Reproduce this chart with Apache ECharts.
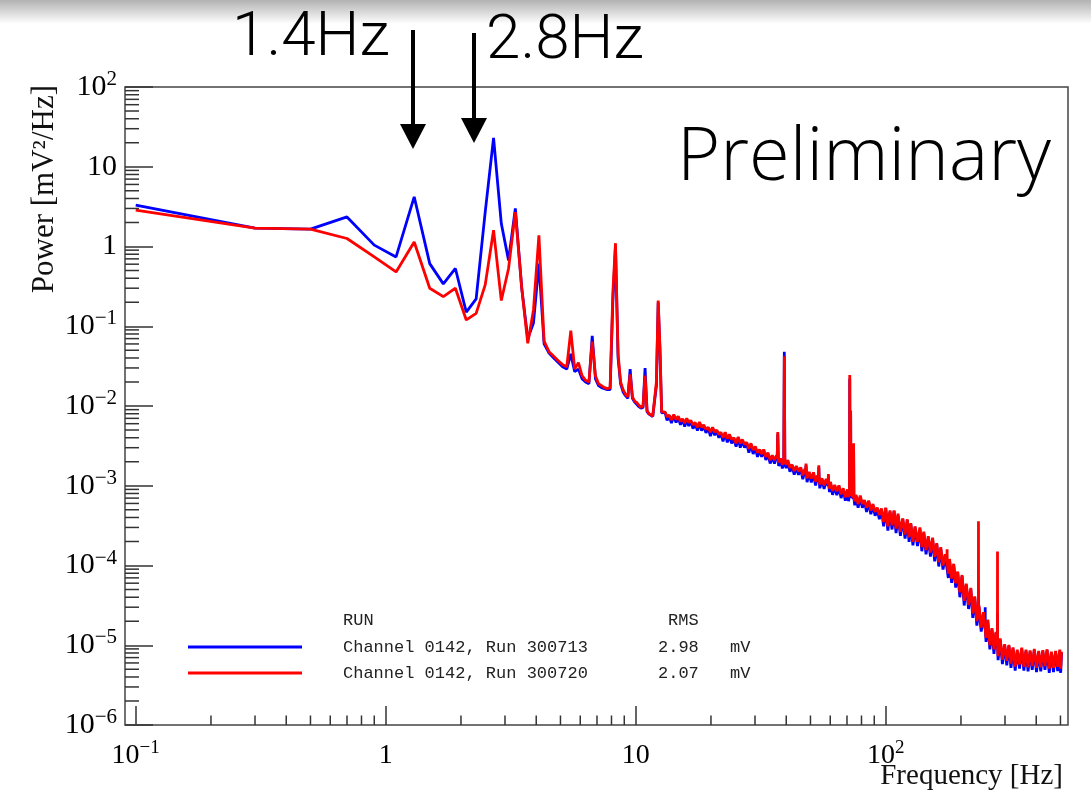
<!DOCTYPE html>
<html><head><meta charset="utf-8">
<script src="https://cdn.jsdelivr.net/npm/echarts@6/dist/echarts.min.js"></script>
<style>html,body{margin:0;padding:0;background:#fff}#c{width:1091px;height:791px}</style>
</head><body><div id="c"></div>
<script>
// ---- data ----
const lowFreq = [0.1,0.3,0.5,0.7,0.9,1.1,1.3,1.5,1.7,1.9,2.1,2.3,2.5,2.7,2.9,3.1,3.3,3.5,3.7,3.9,4.1,4.3,4.5,4.7,4.9,5.1,5.3,5.5,5.7,5.9,6.1,6.3,6.5,6.7,6.9,7.1,7.3,7.5,7.7,7.9,8.1,8.3,8.5,8.7,8.9,9.1,9.3,9.5,9.7,9.9,10.1,10.3,10.5,10.7,10.9,11.1,11.3,11.5,11.7,11.9,12.1,12.3,12.5,12.7,12.9];
const blueLow = [3.3,1.7,1.65,2.35,1.04,0.74,4.2,0.61,0.34,0.53,0.15,0.22,2.7,23,1.94,0.67,3.0,0.3,0.07,0.11,0.61,0.06,0.046,0.04,0.035,0.031,0.029,0.045,0.027,0.029,0.022,0.02,0.019,0.076,0.022,0.018,0.017,0.0165,0.016,0.016,0.2,1.0,0.04,0.019,0.015,0.0135,0.0125,0.029,0.0125,0.0112,0.0105,0.0098,0.0094,0.0096,0.03,0.0085,0.0079,0.0076,0.0074,0.0076,0.018,0.2,0.05,0.0082,0.008];
const redLow = [2.85,1.7,1.65,1.26,0.74,0.48,1.14,0.3,0.235,0.3,0.12,0.145,0.33,1.6,0.21,0.53,2.7,0.3,0.061,0.16,1.38,0.065,0.048,0.042,0.037,0.033,0.031,0.088,0.029,0.035,0.024,0.021,0.02,0.064,0.024,0.019,0.018,0.017,0.0165,0.017,0.26,1.1,0.045,0.02,0.016,0.014,0.013,0.025,0.013,0.0115,0.011,0.0102,0.0096,0.01,0.024,0.0088,0.008,0.0077,0.0075,0.0078,0.02,0.21,0.055,0.0085,0.0082];

// noisy band above 13 Hz: upper excursions at bandFreq, lower excursions at bandMidFreq
const bandFreq = [13.1,13.6,14.2,14.8,15.4,16.0,16.6,17.3,18.0,18.7,19.5,20.3,21.1,21.9,22.8,23.7,24.7,25.7,26.7,27.8,28.9,30.1,31.3,32.5,33.8,35.2,36.6,38.0,40.6,42.2,43.9,45.7,47.5,49.4,51.4,53.4,55.6,57.8,60.1,62.5,65.0,67.6,70.3,73.1,76.0,79.1,82.2,85.5,88.9,92.5,96.2,100,104,108,112,117,122,126,131,137,142,148,154,160,166,173,180,187,194,202,210,219,227,236,246,256,266,276,287,299,311,323,336,350,364,378,393,409,425,442,460,478,497,505];
const bandMidFreq = [13.35,13.9,14.5,15.1,15.7,16.3,16.95,17.65,18.35,19.1,19.9,20.7,21.5,22.35,23.25,24.2,25.2,26.2,27.25,28.35,29.5,30.7,31.9,33.15,34.5,35.9,37.3,38.6,40.0,41.4,43.05,44.8,46.6,48.45,50.4,52.4,54.5,56.7,59.6,61.3,63.75,66.3,68.95,71.0,75.2,77.55,80.65,83.85,87.2,90.7,94.3,98.1,102,106,110,114.5,119.5,124,128.5,134,139.5,145,151,157,163,169.5,178,183.5,190.5,198,206,214.5,223,231.5,241,252,261,271,281.5,293,305,317,329.5,343,357,371,385.5,401,417,433.5,451,469,487.5,501];

const redUpper = [0.0084,0.0077,0.0078,0.0074,0.0069,0.0070,0.0066,0.0062,0.0063,0.0058,0.0054,0.0054,0.0050,0.0047,
 0.0047,0.0044,0.0040,0.0041,0.0038,0.0035,0.0034,0.0031,0.00285,0.00285,0.0026,0.0024,0.0024,0.0022,0.0021,0.00184,0.00177,0.0017,
 0.00162,0.00149,0.00147,0.00135,0.00124,0.00122,0.00112,0.00102,0.00101,0.00093,0.0009,0.0008,0.00077,0.00075,0.00066,0.00065,0.00059,0.00053,0.00052,
 0.00053,0.00049,0.00049,0.000445,0.00039,0.00038,0.00034,0.00031,0.0003,0.000265,0.000233,0.000223,0.00019,0.00017,0.000138,0.000121,0.000105,0.000084,
 7.6e-5,5.9e-5,5.25e-5,4.1e-5,3.15e-5,2.6e-5,2.1e-5,1.64e-5,1.47e-5,1.22e-5,1.03e-5,1.01e-5,9.4e-6,8.8e-6,9.3e-6,8.8e-6,8.6e-6,9.0e-6,8.5e-6,8.7e-6,8.9e-6,8.3e-6,8.5e-6,8.8e-6,8.3e-6];
const redLower = [0.0073,0.0067,0.0068,0.0064,0.0061,0.0062,0.0058,0.0054,0.0054,0.0051,0.0047,0.0047,0.0044,0.0040,
 0.0039,0.0038,0.0034,0.0034,0.0033,0.0029,0.0028,0.0026,0.0025,0.0023,0.0021,0.0021,0.00197,0.00184,0.00184,0.00168,0.00153,0.00152,
 0.00135,0.00124,0.00123,0.00113,0.00104,0.00101,0.00092,0.00086,0.00085,0.00078,0.00072,0.00072,0.00064,0.00059,0.00059,0.00053,0.00049,0.00047,0.00043,
 0.00035,0.00031,0.00032,0.00029,0.000264,0.000245,0.000226,0.000198,0.000198,0.00017,0.000156,0.000145,0.000128,0.00011,0.0001,0.000079,0.0000684,0.0000598,
 4.6e-5,3.6e-5,3.2e-5,2.5e-5,2.0e-5,1.67e-5,1.24e-5,1.0e-5,8.9e-6,7.3e-6,6.6e-6,6.4e-6,5.9e-6,5.4e-6,5.75e-6,5.4e-6,5.3e-6,5.5e-6,5.2e-6,5.3e-6,5.5e-6,5.1e-6,5.2e-6,5.35e-6,5.1e-6];
const blueUpper = [0.0083,0.0076,0.0076,0.0072,0.0068,0.0068,0.0065,0.0060,0.0061,0.0057,0.0053,0.0052,0.0049,0.0046,
 0.0046,0.0042,0.0039,0.0040,0.0037,0.0034,0.0033,0.0030,0.0028,0.0028,0.0025,0.0023,0.0023,0.0021,0.0020,0.0018,0.0017,0.00165,
 0.00158,0.00144,0.00143,0.00131,0.0012,0.00118,0.00108,0.00099,0.00098,0.0009,0.00087,0.00078,0.00075,0.00072,0.00064,0.00063,0.00057,0.00051,0.0005,
 0.00052,0.00047,0.00048,0.000425,0.00038,0.00037,0.00033,0.0003,0.000286,0.000254,0.000223,0.000212,0.000186,0.000164,0.000133,0.000117,0.000102,0.000082,
 7.35e-5,5.7e-5,5.0e-5,4.0e-5,3.05e-5,2.5e-5,2.0e-5,1.58e-5,1.42e-5,1.18e-5,1.0e-5,9.8e-6,9.1e-6,8.5e-6,9.0e-6,8.5e-6,8.3e-6,8.7e-6,8.2e-6,8.4e-6,8.6e-6,8.0e-6,8.2e-6,8.5e-6,8.0e-6];
const blueLower = [0.0066,0.0061,0.0062,0.0058,0.0055,0.0056,0.0052,0.0049,0.0049,0.0046,0.0042,0.0043,0.0040,0.0036,
 0.0035,0.0034,0.0031,0.0030,0.0030,0.0026,0.0025,0.0023,0.0023,0.0021,0.0019,0.0019,0.00177,0.00165,0.00166,0.0015,0.00138,0.00137,
 0.00121,0.00111,0.0011,0.00101,0.00093,0.00091,0.00083,0.00077,0.00076,0.0007,0.00065,0.00064,0.00057,0.00053,0.00053,0.00047,0.00044,0.00042,0.00038,
 0.00031,0.000274,0.000283,0.000255,0.000236,0.000217,0.000198,0.000179,0.000175,0.000151,0.000138,0.000129,0.000113,0.0000972,0.0000887,0.0000698,0.0000604,0.0000528,
 4.0e-5,3.15e-5,2.85e-5,2.2e-5,1.76e-5,1.48e-5,1.1e-5,8.9e-6,7.8e-6,6.5e-6,5.8e-6,5.6e-6,5.2e-6,4.8e-6,5.1e-6,4.8e-6,4.7e-6,4.9e-6,4.6e-6,4.7e-6,4.9e-6,4.5e-6,4.6e-6,4.75e-6,4.5e-6];

// narrow spectral lines [frequency, power]
const redPeaks = [[36.8,0.0022],[37.0,0.0047],[37.2,0.0022],[39.1,0.0020],[39.3,0.042],[39.5,0.0020],
 [47.8,0.0015],[48.0,0.0019],[48.2,0.0015],[53.8,0.0012],[54.0,0.0018],[54.2,0.0012],[58.8,0.00105],[59.0,0.0014],[59.2,0.00105],
 [71.6,0.0008],[71.8,0.0245],[72.0,0.0008],[72.4,0.0088],[72.6,0.00078],[74.2,0.00072],[74.4,0.0034],[74.6,0.00072],
 [175.8,0.00011],[176.0,0.00016],[176.2,0.00011],[234.8,2.6e-5],[235.0,3.6e-4],[235.2,2.6e-5],[279.8,1.0e-5],[280.0,1.5e-4],[280.2,1.0e-5]];
const bluePeaks = [[36.8,0.0021],[37.0,0.0045],[37.2,0.0021],[39.1,0.0019],[39.3,0.048],[39.5,0.0019],
 [47.8,0.0014],[48.0,0.0018],[48.2,0.0014],[53.8,0.00115],[54.0,0.0017],[54.2,0.00115],[58.8,0.001],[59.0,0.0013],[59.2,0.001],
 [71.6,0.00075],[71.8,0.022],[72.0,0.00075],[72.4,0.008],[72.6,0.00074],[74.2,0.0007],[74.4,0.003],[74.6,0.0007],
 [234.8,2.4e-5],[235.0,5.0e-5],[235.2,2.4e-5],[249.8,1.6e-5],[250.0,3.0e-5],[250.2,1.6e-5],[279.8,9.5e-6],[280.0,2.5e-5],[280.2,9.5e-6]];

const seriesNames = ['Channel 0142, Run 300713','Channel 0142, Run 300720'];
const rmsValues = ['2.98','2.07'];

// ---- tick labels ----
const xTickValues = [0.1,1,10,100];
const xTickLabels = ['{b|10}{s|−1}','{b|1}','{b|10}','{b|10}{s|2}'];
const yTickValues = [1e-6,1e-5,1e-4,1e-3,1e-2,1e-1,1,10,100];
const yTickLabels = ['{b|10}{s|−6}','{b|10}{s|−5}','{b|10}{s|−4}','{b|10}{s|−3}','{b|10}{s|−2}','{b|10}{s|−1}','{b|1}','{b|10}','{b|10}{s|2}'];
const minorMantissas = [2,3,4,5,6,7,8,9];
const xDecades = [0.1,1,10,100];
const yDecades = [1e-6,1e-5,1e-4,1e-3,1e-2,1e-1,1,10];

const X_MIN = 0.0906, X_MAX = 536, Y_MIN = 1e-6, Y_MAX = 100;

function pairs(freqs, vals) { return freqs.map((f, i) => [f, vals[i]]); }
function build(parts) { return [].concat.apply([], parts).sort((a, b) => a[0] - b[0]); }
const blueData = build([pairs(lowFreq, blueLow), pairs(bandFreq, blueUpper), pairs(bandMidFreq, blueLower), bluePeaks]);
const redData = build([pairs(lowFreq, redLow), pairs(bandFreq, redUpper), pairs(bandMidFreq, redLower), redPeaks]);

const xMinor = [], yMinor = [];
xDecades.forEach(d => minorMantissas.forEach(m => { const v = m * d; if (v > X_MIN && v < X_MAX) xMinor.push([v, Y_MIN]); }));
yDecades.forEach(d => minorMantissas.forEach(m => yMinor.push([X_MIN, m * d])));

function labelFor(values, labels) {
  return function (v) {
    for (let i = 0; i < values.length; i++) {
      if (Math.abs(Math.log10(v) - Math.log10(values[i])) < 1e-6) return labels[i];
    }
    return '';
  };
}
const serif = '"Liberation Serif", "DejaVu Serif", serif';
const richX = {
  b: { fontFamily: serif, fontSize: 28, color: '#000', lineHeight: 34, verticalAlign: 'middle' },
  s: { fontFamily: serif, fontSize: 19, color: '#000', lineHeight: 16, verticalAlign: 'top' }
};
const richY = {
  b: { fontFamily: serif, fontSize: 30, color: '#000', lineHeight: 36, verticalAlign: 'middle' },
  s: { fontFamily: serif, fontSize: 21, color: '#000', lineHeight: 17, verticalAlign: 'top' }
};
const tickColor = '#333';
const mono = '17px "Liberation Mono", monospace';

const chart = echarts.init(document.getElementById('c'), null, { renderer: 'canvas' });
chart.setOption({
  animation: false,
  backgroundColor: '#fff',
  grid: { left: 125, top: 87, width: 943, height: 638, show: true, borderColor: '#444', borderWidth: 1.5, backgroundColor: 'transparent' },
  xAxis: {
    type: 'log', logBase: 10, min: X_MIN, max: X_MAX, splitNumber: 4,
    axisLine: { show: false },
    axisTick: { show: true, inside: true, length: 19, lineStyle: { color: tickColor, width: 1.5 } },
    splitLine: { show: false },
    axisLabel: { formatter: labelFor(xTickValues, xTickLabels), rich: richX, margin: 14, showMinLabel: false, showMaxLabel: false }
  },
  yAxis: {
    type: 'log', logBase: 10, min: Y_MIN, max: Y_MAX, splitNumber: 8,
    axisLine: { show: false },
    axisTick: { show: true, inside: true, length: 28, lineStyle: { color: tickColor, width: 1.5 } },
    splitLine: { show: false },
    axisLabel: { formatter: labelFor(yTickValues, yTickLabels), rich: richY, margin: 8 }
  },
  series: [
    { type: 'custom', name: 'xMinorTicks', data: xMinor, encode: { x: 0, y: 1 }, silent: true, z: 5,
      renderItem: function (params, api) {
        const p = api.coord([api.value(0), api.value(1)]);
        return { type: 'line', shape: { x1: p[0], y1: p[1], x2: p[0], y2: p[1] - 9.5 }, style: { stroke: tickColor, lineWidth: 1.5 } };
      } },
    { type: 'custom', name: 'yMinorTicks', data: yMinor, encode: { x: 0, y: 1 }, silent: true, z: 5,
      renderItem: function (params, api) {
        const p = api.coord([api.value(0), api.value(1)]);
        return { type: 'line', shape: { x1: p[0], y1: p[1], x2: p[0] + 14, y2: p[1] }, style: { stroke: tickColor, lineWidth: 1.5 } };
      } },
    { type: 'line', name: seriesNames[0], data: blueData, symbol: 'none', showSymbol: false, z: 2,
      lineStyle: { color: '#0000ff', width: 2.8 }, itemStyle: { color: '#0000ff' } },
    { type: 'line', name: seriesNames[1], data: redData, symbol: 'none', showSymbol: false, z: 3,
      lineStyle: { color: '#ff0000', width: 2.8 }, itemStyle: { color: '#ff0000' } }
  ],
  graphic: [
    { type: 'rect', silent: true, z: 100, shape: { x: 0, y: 0, width: 1091, height: 24 },
      style: { fill: { type: 'linear', x: 0, y: 0, x2: 0, y2: 1, colorStops: [{ offset: 0, color: 'rgba(0,0,0,0.30)' }, { offset: 1, color: 'rgba(0,0,0,0)' }] } } },
    { type: 'text', x: 232, y: 39, style: { text: '1.4Hz', font: '300 62px Roboto, "Liberation Sans", sans-serif', fill: '#000', align: 'left', verticalAlign: 'middle' } },
    { type: 'text', x: 486, y: 42, style: { text: '2.8Hz', font: '300 62px Roboto, "Liberation Sans", sans-serif', fill: '#000', align: 'left', verticalAlign: 'middle' } },
    { type: 'rect', shape: { x: 411, y: 30, width: 4, height: 96 }, style: { fill: '#000' } },
    { type: 'polygon', shape: { points: [[400, 124], [426, 124], [413, 149]] }, style: { fill: '#000' } },
    { type: 'rect', shape: { x: 472, y: 33, width: 4, height: 87 }, style: { fill: '#000' } },
    { type: 'polygon', shape: { points: [[461, 118], [487, 118], [474, 143]] }, style: { fill: '#000' } },
    { type: 'text', x: 677, y: 159, style: { text: 'Preliminary', font: '300 74px "Open Sans", "Noto Sans", sans-serif', fill: '#000', align: 'left', verticalAlign: 'middle' } },
    { type: 'text', x: 45, y: 85, rotation: Math.PI / 2, style: { text: 'Power [mV²/Hz]', font: '31px ' + serif, fill: '#111', align: 'right', verticalAlign: 'middle' } },
    { type: 'text', x: 1063, y: 776, style: { text: 'Frequency [Hz]', font: '29px ' + serif, fill: '#111', align: 'right', verticalAlign: 'middle' } },
    // legend
    { type: 'text', x: 343, y: 620, style: { text: 'RUN', font: mono, fill: '#222', verticalAlign: 'middle' } },
    { type: 'text', x: 668, y: 620, style: { text: 'RMS', font: mono, fill: '#222', verticalAlign: 'middle' } },
    { type: 'line', shape: { x1: 188, y1: 647, x2: 302, y2: 647 }, style: { stroke: '#0000ff', lineWidth: 3 } },
    { type: 'line', shape: { x1: 188, y1: 673, x2: 302, y2: 673 }, style: { stroke: '#ff0000', lineWidth: 3 } },
    { type: 'text', x: 343, y: 647, style: { text: seriesNames[0], font: mono, fill: '#222', verticalAlign: 'middle' } },
    { type: 'text', x: 343, y: 673, style: { text: seriesNames[1], font: mono, fill: '#222', verticalAlign: 'middle' } },
    { type: 'text', x: 658, y: 647, style: { text: rmsValues[0], font: mono, fill: '#222', verticalAlign: 'middle' } },
    { type: 'text', x: 658, y: 673, style: { text: rmsValues[1], font: mono, fill: '#222', verticalAlign: 'middle' } },
    { type: 'text', x: 730, y: 647, style: { text: 'mV', font: mono, fill: '#222', verticalAlign: 'middle' } },
    { type: 'text', x: 730, y: 673, style: { text: 'mV', font: mono, fill: '#222', verticalAlign: 'middle' } }
  ]
});
</script>
</body></html>
